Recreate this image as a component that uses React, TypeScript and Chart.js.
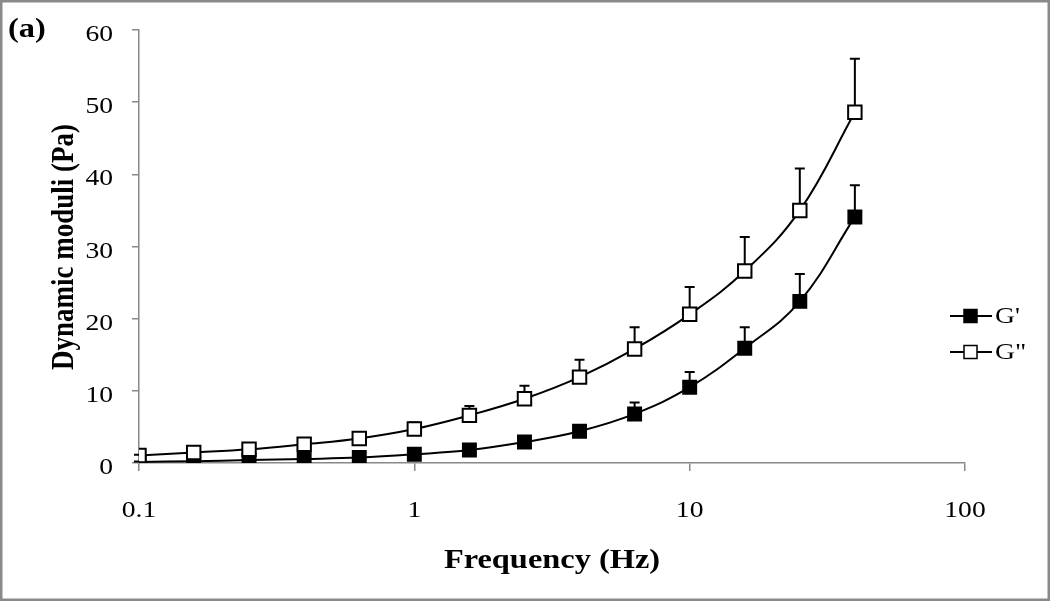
import React, { useEffect, useRef } from "react";
import { Chart, registerables } from "chart.js";

Chart.register(...registerables);

// ---- data ----
const frequencies = [0.1, 0.158, 0.251, 0.398, 0.631, 1, 1.585, 2.512, 3.981, 6.31, 10, 15.85, 25.12, 39.81];
const gPrime = [0.15, 0.25, 0.4, 0.55, 0.75, 1.2, 1.8, 2.9, 4.4, 6.8, 10.5, 15.9, 22.4, 34.1];
const gPrimeErr = [0.05, 0.05, 0.1, 0.1, 0.1, 0.2, 0.3, 0.4, 0.5, 1.6, 2.1, 2.9, 3.8, 4.4];
const gDoublePrime = [1.05, 1.45, 1.9, 2.6, 3.4, 4.7, 6.6, 8.9, 11.9, 15.8, 20.6, 26.6, 35.0, 48.6];
const gDoublePrimeErr = [0.1, 0.1, 0.2, 0.2, 0.4, 0.9, 1.3, 1.8, 2.4, 3.0, 3.8, 4.7, 5.8, 7.4];
const seriesNames = ["G'", 'G"'];
const xTickValues = [0.1, 1, 10, 100];
const xTickLabels = ["0.1", "1", "10", "100"];
const yTickValues = [0, 10, 20, 30, 40, 50, 60];
const yTickLabels = ["0", "10", "20", "30", "40", "50", "60"];
const panelLabel = "(a)";
const xTitle = "Frequency (Hz)";
const yTitle = "Dynamic moduli (Pa)";

const SX = 1.2;
const SERIF = '"Liberation Serif", "Times New Roman", serif';
const AXIS_GRAY = "#888888";

function drawText(
  ctx: CanvasRenderingContext2D,
  text: string,
  x: number,
  y: number,
  align: CanvasTextAlign,
  font: string,
  rotate = 0
) {
  ctx.save();
  ctx.font = font;
  ctx.fillStyle = "#000";
  ctx.translate(x, y);
  ctx.scale(SX, 1);
  if (rotate) ctx.rotate(rotate);
  ctx.textAlign = align;
  ctx.textBaseline = "alphabetic";
  ctx.fillText(text, 0, 0);
  ctx.restore();
}

const errorBarPlugin = {
  id: "errorBars",
  beforeDatasetsDraw(chart: any) {
    const ctx: CanvasRenderingContext2D = chart.ctx;
    const xs = chart.scales.x;
    const ys = chart.scales.y;
    const sets = [
      { v: gPrime, e: gPrimeErr },
      { v: gDoublePrime, e: gDoublePrimeErr },
    ];
    ctx.save();
    ctx.strokeStyle = "#000";
    ctx.lineWidth = 2;
    sets.forEach((s) => {
      frequencies.forEach((f, i) => {
        const x = xs.getPixelForValue(f);
        const y0 = ys.getPixelForValue(s.v[i]);
        const y1 = ys.getPixelForValue(s.v[i] + s.e[i]);
        ctx.beginPath();
        ctx.moveTo(x, y0);
        ctx.lineTo(x, y1);
        ctx.moveTo(x - 5, y1);
        ctx.lineTo(x + 5, y1);
        ctx.stroke();
      });
    });
    ctx.restore();
  },
};

const decorPlugin = {
  id: "decor",
  afterDraw(chart: any) {
    const ctx: CanvasRenderingContext2D = chart.ctx;
    const xs = chart.scales.x;
    const ys = chart.scales.y;
    const area = chart.chartArea;
    const tickFont = `23px ${SERIF}`;
    const titleFont = `bold 27px ${SERIF}`;

    // tick labels
    yTickValues.forEach((v, i) => {
      const y = ys.getPixelForValue(v);
      drawText(ctx, yTickLabels[i], area.left - 26, y + 11, "right", tickFont);
    });
    xTickValues.forEach((v, i) => {
      const x = xs.getPixelForValue(v);
      drawText(ctx, xTickLabels[i], x, area.bottom + 54, "center", tickFont);
    });

    // titles
    drawText(ctx, xTitle, (area.left + area.right) / 2 + 0, 568, "center", titleFont);
    drawText(ctx, yTitle, 73, 247, "center", titleFont, -Math.PI / 2);
    drawText(ctx, panelLabel, 8, 37, "left", titleFont);

    // legend
    seriesNames.forEach((name, i) => {
      const cy = 316 + i * 36;
      ctx.save();
      ctx.strokeStyle = "#000";
      ctx.lineWidth = 2;
      ctx.beginPath();
      ctx.moveTo(950, cy);
      ctx.lineTo(992, cy);
      ctx.stroke();
      ctx.fillStyle = i === 0 ? "#000" : "#fff";
      ctx.fillRect(964, cy - 6.5, 13, 13);
      ctx.lineWidth = 1.5;
      ctx.strokeRect(964, cy - 6.5, 13, 13);
      ctx.restore();
      drawText(ctx, name, 995, cy + 7, "left", `23px ${SERIF}`);
    });

    // outer frame
    ctx.save();
    ctx.strokeStyle = "#8a8a8a";
    ctx.lineWidth = 2.5;
    ctx.strokeRect(1.25, 1.25, chart.width - 2.5, chart.height - 2.5);
    ctx.restore();
  },
};

export default function App() {
  const canvasRef = useRef<HTMLCanvasElement | null>(null);

  useEffect(() => {
    const canvas = canvasRef.current;
    if (!canvas) return;
    const chart = new Chart(canvas, {
      type: "line",
      data: {
        datasets: [
          {
            label: seriesNames[0],
            data: frequencies.map((f, i) => ({ x: f, y: gPrime[i] })),
            borderColor: "#000",
            borderWidth: 2,
            pointStyle: "rect",
            pointRadius: 9.5,
            pointBackgroundColor: "#000",
            pointBorderColor: "#000",
            pointBorderWidth: 1.5,
            tension: 0.4,
            fill: false,
            order: 1,
          },
          {
            label: seriesNames[1],
            data: frequencies.map((f, i) => ({ x: f, y: gDoublePrime[i] })),
            borderColor: "#000",
            borderWidth: 2,
            pointStyle: "rect",
            pointRadius: 9.5,
            pointBackgroundColor: "#fff",
            pointBorderColor: "#000",
            pointBorderWidth: 2,
            tension: 0.4,
            fill: false,
            order: 0,
          },
        ],
      },
      options: {
        animation: false,
        responsive: false,
        devicePixelRatio: 1,
        layout: { padding: { left: 0, top: 30, right: 85, bottom: 0 } },
        plugins: {
          legend: { display: false },
          tooltip: { enabled: false },
          title: { display: false },
        },
        scales: {
          x: {
            type: "logarithmic",
            min: 0.1,
            max: 100,
            afterBuildTicks: (s: any) => {
              s.ticks = xTickValues.map((v) => ({ value: v }));
            },
            afterFit: (s: any) => {
              s.height = 138;
            },
            ticks: { display: false },
            grid: { drawOnChartArea: false, drawTicks: true, tickLength: 8, color: AXIS_GRAY, lineWidth: 1.5 },
            border: { color: AXIS_GRAY, width: 1.5 },
          },
          y: {
            type: "linear",
            min: 0,
            max: 60,
            afterBuildTicks: (s: any) => {
              s.ticks = yTickValues.map((v) => ({ value: v }));
            },
            afterFit: (s: any) => {
              s.width = 139;
            },
            ticks: { display: false },
            grid: { drawOnChartArea: false, drawTicks: true, tickLength: 7, color: AXIS_GRAY, lineWidth: 1.5 },
            border: { color: AXIS_GRAY, width: 1.5 },
          },
        },
      } as any,
      plugins: [errorBarPlugin, decorPlugin],
    });
    return () => chart.destroy();
  }, []);

  return (
    <div style={{ position: "absolute", left: 0, top: 0, width: 1050, height: 601, background: "#fff" }}>
      <canvas ref={canvasRef} width={1050} height={601} style={{ display: "block", width: 1050, height: 601 }} />
    </div>
  );
}
